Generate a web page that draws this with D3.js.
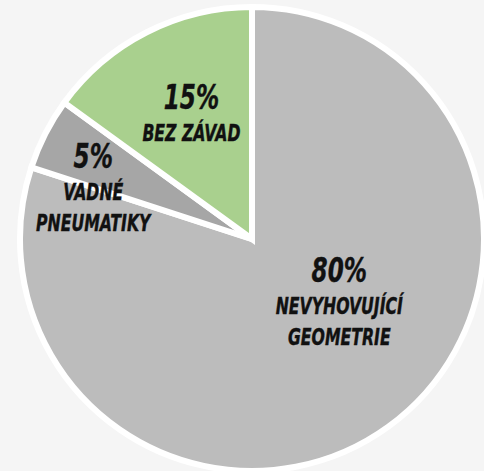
<!DOCTYPE html>
<html>
<head>
<meta charset="utf-8">
<script src="https://cdn.jsdelivr.net/npm/d3@7"></script>
<style>
  html, body { margin: 0; padding: 0; background: #f5f5f5; }
  svg { display: block; }
  .lbl text {
    font-family: "Liberation Sans Narrow", "DejaVu Sans Condensed", "Liberation Sans", sans-serif;
    font-weight: bold;
    font-style: italic;
    fill: #111;
    stroke: #111;
    stroke-width: 0.4px;
    text-anchor: middle;
  }
</style>
</head>
<body>
<div id="chart"></div>
<script>
// slice data, clockwise from 12 o'clock
const shares = [80, 5, 15];
const pctLabels = ["80%", "5%", "15%"];
const nameLabels = [["NEVYHOVUJÍCÍ", "GEOMETRIE"], ["VADNÉ", "PNEUMATIKY"], ["BEZ ZÁVAD"]];
const sliceColors = ["#bcbcbc", "#a6a6a6", "#a9d08e"];

const width = 484, height = 471;
const cx = 252, cy = 239, radius = 232;

// nudges from the label-arc centroid (Excel "best fit" placement)
const labelNudge = [[5, -70], [-34, -7], [3, -5]];

let svg = d3.select("#chart")
    .append("svg")
    .attr("width", width)
    .attr("height", height);

let g = svg.append("g")
    .attr("transform", "translate(" + cx + "," + cy + ")");

let pie = d3.pie().sort(null).value(d => d);
let arcs = pie(shares);

let arc = d3.arc().innerRadius(0).outerRadius(radius);
let labelArc = d3.arc().innerRadius(140).outerRadius(140);

g.selectAll("path.slice")
    .data(arcs)
    .enter().append("path")
    .attr("class", "slice")
    .attr("d", arc)
    .attr("fill", (d, i) => sliceColors[i])
    .attr("stroke", "#ffffff")
    .attr("stroke-width", 6)
    .attr("stroke-linejoin", "miter");

let labels = g.selectAll("g.lbl")
    .data(arcs)
    .enter().append("g")
    .attr("class", "lbl")
    .attr("transform", function (d, i) {
        let c = labelArc.centroid(d);
        return "translate(" + (c[0] + labelNudge[i][0]) + "," + (c[1] + labelNudge[i][1]) + ")";
    });

// condensed look: squeeze the glyphs horizontally
labels.append("text")
    .attr("transform", "scale(0.78,1)")
    .style("font-size", "33px")
    .text((d, i) => pctLabels[i]);

labels.each(function (d, i) {
    let lbl = d3.select(this);
    nameLabels[i].forEach(function (line, k) {
        lbl.append("text")
            .attr("transform", "translate(0," + (32 + k * 31) + ") scale(0.76,1)")
            .style("font-size", "23px")
            .text(line);
    });
});
</script>
</body>
</html>
